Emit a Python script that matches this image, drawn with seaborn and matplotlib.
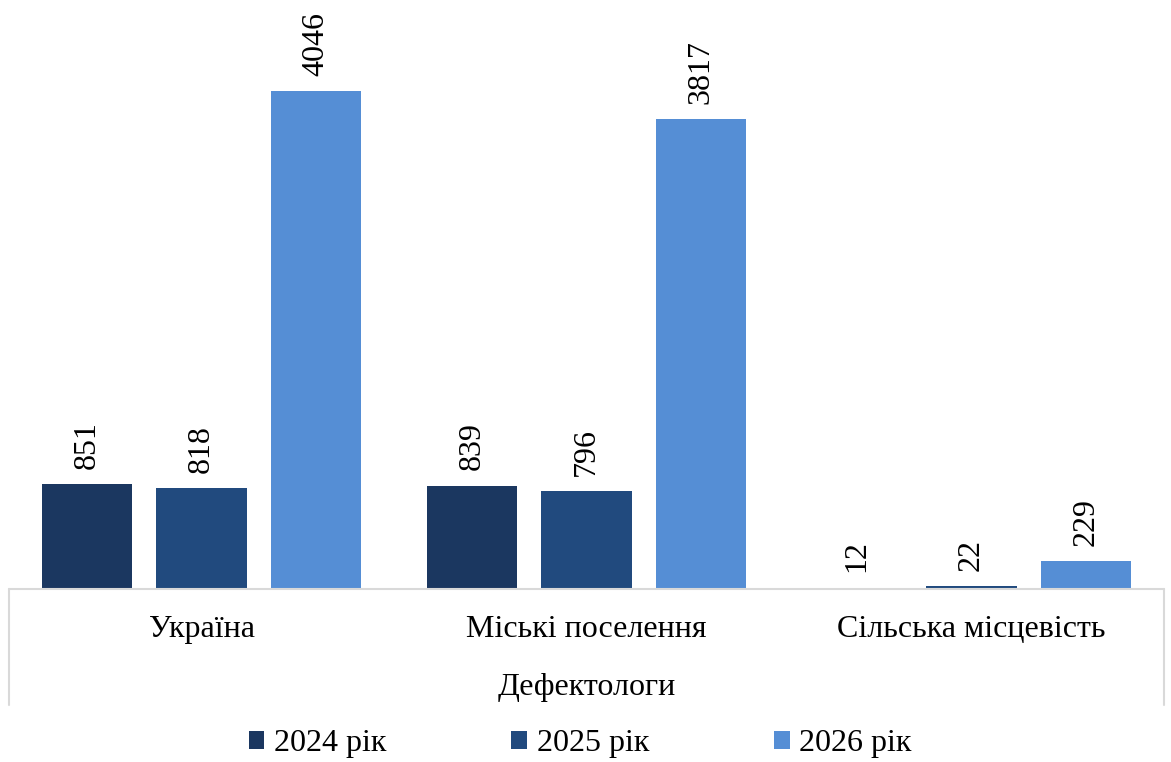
import matplotlib
matplotlib.use("Agg")
import matplotlib.pyplot as plt
import seaborn as sns
import pandas as pd
from matplotlib.lines import Line2D

categories = ["Україна", "Міські поселення", "Сільська місцевість"]
years = ["2024 рік", "2025 рік", "2026 рік"]
values_2024 = [851, 839, 12]
values_2025 = [818, 796, 22]
values_2026 = [4046, 3817, 229]
group_label = "Дефектологи"

colors = ["#1B3760", "#214A7E", "#558ED5"]

rows = []
for yr, vals in zip(years, [values_2024, values_2025, values_2026]):
    for c, v in zip(categories, vals):
        rows.append({"cat": c, "year": yr, "val": v})
df = pd.DataFrame(rows)

sns.set_theme(style="white")
plt.rcParams["font.family"] = ["Liberation Serif", "DejaVu Serif"]
plt.rcParams["text.color"] = "black"
plt.rcParams["xtick.color"] = "black"
plt.rcParams["axes.labelcolor"] = "black"

FS = 23
W, H = 1171, 762
fig = plt.figure(figsize=(W / 100, H / 100), dpi=100)
x0, x1, ybase = 9, 1164, 589
ax = fig.add_axes([x0 / W, (H - ybase) / H, (x1 - x0) / W, ybase / H])

sns.barplot(data=df, x="cat", y="val", hue="year", order=categories,
            hue_order=years, palette=colors, saturation=1, width=0.891, gap=0.21,
            ax=ax, legend=True, edgecolor="none")

ax.set_ylim(0, 4785)
ax.set_xlim(-0.5, 2.5)
for s in ax.spines.values():
    s.set_visible(False)
ax.set_yticks([])
ax.set_ylabel("")
ax.tick_params(axis="x", length=0, pad=19, labelsize=FS, labelcolor="black")
for c in ax.containers:
    ax.bar_label(c, rotation=90, padding=11, fontsize=FS, color="black")

ax.set_xlabel(group_label, fontsize=FS, color="black")
ax.xaxis.set_label_coords(0.5, (ybase - 688) / ybase)
ax.xaxis.label.set_va("center")

# category axis box
lc = "#D9D9D9"
fig.add_artist(Line2D([x0 / W, x1 / W], [(H - ybase) / H] * 2, color=lc, lw=1.5))
fig.add_artist(Line2D([x0 / W] * 2, [(H - ybase) / H, (H - 705) / H], color=lc, lw=1.5))
fig.add_artist(Line2D([x1 / W] * 2, [(H - ybase) / H, (H - 705) / H], color=lc, lw=1.5))

handles, labels = ax.get_legend_handles_labels()
ax.get_legend().remove()
leg = fig.legend(handles, labels, loc="center", bbox_to_anchor=(580 / W, (H - 744) / H),
                 ncol=3, frameon=False, fontsize=FS, handlelength=0.5, handleheight=0.5,
                 handletextpad=0.3, columnspacing=3.9, borderpad=0)

fig.savefig("out.png", dpi=100)
